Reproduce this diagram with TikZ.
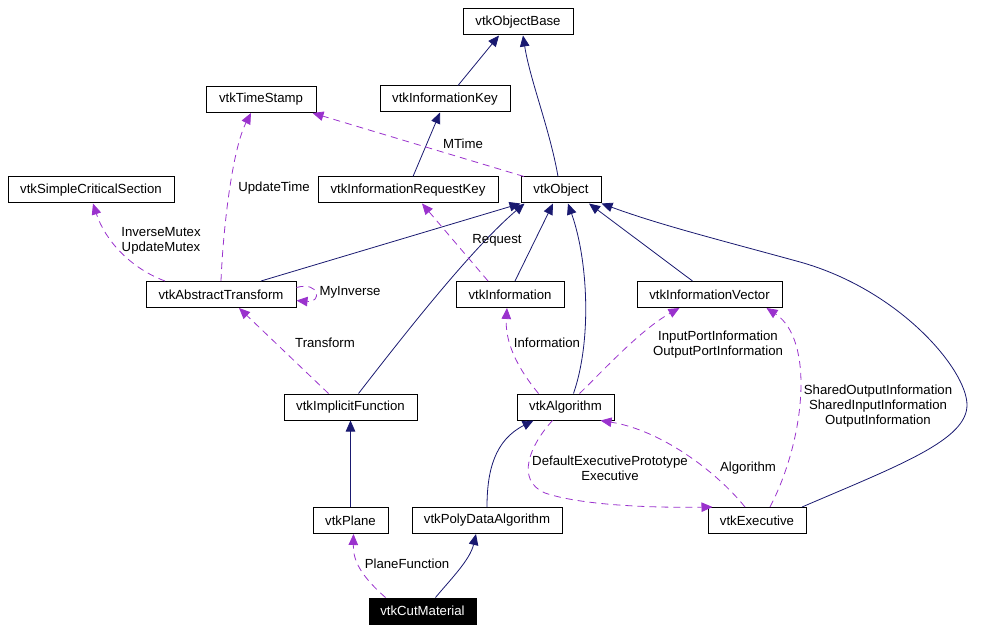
\documentclass[tikz,border=0pt]{standalone}
\usepackage{fontspec}
\setmainfont{Liberation Sans}
\usetikzlibrary{arrows.meta}
\definecolor{inhblue}{HTML}{191970}
\definecolor{usepurple}{HTML}{9A32CD}
\begin{document}
\begin{tikzpicture}[x=1pt,y=-1pt,
    cls/.style={draw, line width=1pt, minimum height=26pt, inner sep=0pt, font=\fontsize{13.2}{15}\selectfont},
    lbl/.style={inner sep=0pt, align=center, font=\fontsize{13.2}{15}\selectfont},
    inh/.style={draw=inhblue, line width=0.8pt, -{Triangle[length=11pt,width=9.5pt]}, inhblue},
    uses/.style={draw=usepurple, line width=0.8pt, dash pattern=on 7pt off 5pt, -{Triangle[length=11pt,width=9.5pt]}, usepurple}]
    \useasboundingbox (0,0) rectangle (1006,631);
    % classes
    \node[cls, minimum width=110pt] (base) at (518,22) {vtkObjectBase};
    \node[cls, minimum width=110pt] (stamp) at (261,99.5) {vtkTimeStamp};
    \node[cls, minimum width=130pt] (ikey) at (445,99) {vtkInformationKey};
    \node[cls, minimum width=166pt] (crit) at (91,190) {vtkSimpleCriticalSection};
    \node[cls, minimum width=180pt] (rkey) at (408,190) {vtkInformationRequestKey};
    \node[cls, minimum width=80pt] (obj) at (561,190) {vtkObject};
    \node[cls, minimum width=150pt] (atrans) at (221,294.5) {vtkAbstractTransform};
    \node[cls, minimum width=108pt] (info) at (510,294.5) {vtkInformation};
    \node[cls, minimum width=145pt] (ivec) at (709.5,294.5) {vtkInformationVector};
    \node[cls, minimum width=133pt] (ifunc) at (350.5,407) {vtkImplicitFunction};
    \node[cls, minimum width=97pt] (alg) at (565.5,407) {vtkAlgorithm};
    \node[cls, minimum width=75pt] (plane) at (350.5,520.5) {vtkPlane};
    \node[cls, minimum width=150pt] (pda) at (487,520.5) {vtkPolyDataAlgorithm};
    \node[cls, minimum width=98pt] (exec) at (757,520.5) {vtkExecutive};
    \node[cls, minimum width=107pt, fill=black, text=white] (cut) at (422.5,611) {vtkCutMaterial};
    % inheritance
    \draw[inh] ([xshift=13pt]ikey.north) -- ([xshift=-19pt]base.south);
    \draw[inh] ([xshift=-3pt]obj.north) .. controls (550,130) and (530,80) .. ([xshift=5pt]base.south);
    \draw[inh] ([xshift=5pt]rkey.north) -- ([xshift=-5pt]ikey.south);
    \draw[inh] ([xshift=40pt]atrans.north) -- (obj.south west);
    \draw[inh] ([xshift=8pt]ifunc.north) .. controls (400,340) and (470,250) .. ([xshift=4pt]obj.south west);
    \draw[inh] ([xshift=5pt]info.north) -- ([xshift=-8pt]obj.south);
    \draw[inh] ([xshift=8pt]alg.north) .. controls (592,340) and (588,260) .. ([xshift=7pt]obj.south);
    \draw[inh] ([xshift=-17pt]ivec.north) -- ([xshift=28pt]obj.south);
    \draw[inh] ([xshift=45pt]exec.north) .. controls (900,465) and (967,440) .. (967,405) % long way round
        .. controls (967,370) and (900,290) .. (800,262) .. controls (720,240) and (660,225) .. (obj.south east);
    \draw[inh] (plane.north) -- (ifunc.south);
    \draw[inh] (pda.north) .. controls (487,470) and (495,440) .. ([xshift=-32pt]alg.south);
    \draw[inh] ([xshift=13pt]cut.north) .. controls (450,580) and (470,560) .. ([xshift=-11pt]pda.south);
    % usage
    \draw[uses] ([xshift=-37pt]obj.north) -- ([xshift=-4pt]stamp.south east);
    \draw[uses] (atrans.north) .. controls (223,230) and (232,150) .. ([xshift=-10pt]stamp.south);
    \draw[uses] ([xshift=-56pt]atrans.north) .. controls (130,268) and (105,240) .. ([xshift=2pt]crit.south);
    \draw[uses] ([yshift=7pt]atrans.east) .. controls (320,281) and (322,303) .. ([yshift=-6pt]atrans.east); % MyInverse
    \draw[uses] ([xshift=-22pt]info.north) -- ([xshift=14pt]rkey.south);
    \draw[uses] ([xshift=-22pt]ifunc.north) -- ([xshift=18pt]atrans.south);
    \draw[uses] ([xshift=-27pt]alg.north) .. controls (515,365) and (505,340) .. ([xshift=-3pt]info.south);
    \draw[uses] ([xshift=14pt]alg.north) .. controls (602,372) and (640,330) .. ([xshift=-30pt]ivec.south);
    \draw[uses] ([xshift=13pt]exec.north) .. controls (805,440) and (815,340) .. ([xshift=57pt]ivec.south);
    \draw[uses] ([xshift=-12pt]exec.north) .. controls (715,470) and (660,430) .. ([xshift=35pt]alg.south);
    \draw[uses] ([xshift=-13pt]alg.south) .. controls (530,445) and (515,480) .. (545,493)
        .. controls (580,505) and (650,508) .. ([xshift=5pt]exec.north west);
    \draw[uses] ([xshift=-37pt]cut.north) .. controls (360,575) and (353,560) .. ([xshift=3pt]plane.south);
    % edge labels
    \node[lbl] (lmtime) at (463,144) {MTime};
    \node[lbl] (lupd) at (274,188) {UpdateTime};
    \node[lbl] (lmutex) at (161,241) {InverseMutex\\UpdateMutex};
    \node[lbl] (lreq) at (497,240) {Request};
    \node[lbl] (linv) at (350,292) {MyInverse};
    \node[lbl] (ltrans) at (325,343) {Transform};
    \node[lbl] (linfo) at (547,343) {Information};
    \node[lbl] (lport) at (718,345) {InputPortInformation\\OutputPortInformation};
    \node[lbl] (lshared) at (878,406) {SharedOutputInformation\\SharedInputInformation\\OutputInformation};
    \node[lbl] (ldef) at (610,468) {DefaultExecutivePrototype\\Executive};
    \node[lbl] (lalg) at (748,468) {Algorithm};
    \node[lbl] (lplane) at (407,564) {PlaneFunction};
\end{tikzpicture}
\end{document}
